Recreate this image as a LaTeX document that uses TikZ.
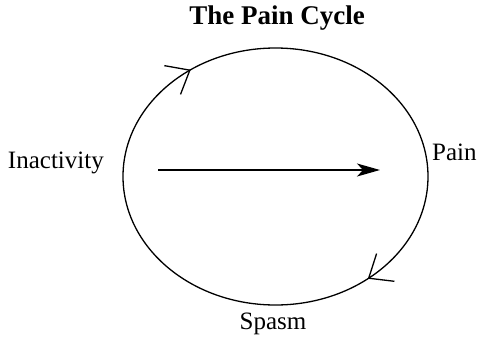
\documentclass[tikz,border=0pt]{standalone}
\usepackage{fontspec}
\setmainfont{Liberation Serif}
\usetikzlibrary{arrows.meta, decorations.markings}

\tikzset{cycle tip/.tip={Straight Barb[length=20pt,width=33pt,line width=1.3pt]}}

\begin{document}
\begin{tikzpicture}[x=1pt,y=-1pt,>=Stealth,
    label text/.style={font=\fontsize{25}{30}\selectfont,inner sep=0pt}]
  \useasboundingbox (0,0) rectangle (480,338);
  % title
  \node[font=\fontsize{27}{32}\bfseries\selectfont,inner sep=0pt] (title) at (277,18) {The Pain Cycle};
  % the cycle, drawn clockwise
  \coordinate (C) at (275.5,176.5);
  \draw[line width=1.3pt,
        decoration={markings,
          mark=at position 0.15 with {\arrow{cycle tip}},
          mark=at position 0.64 with {\arrow{cycle tip}}},
        postaction={decorate}]
    (C) ++(-152.5,0) arc[start angle=180,end angle=540,x radius=152.5,y radius=128.5];
  % labels round the cycle
  \node[label text,anchor=east] (inactivity) at (104,163) {Inactivity};
  \node[label text,anchor=west] (pain) at (432,152) {Pain};
  \node[label text] (spasm) at (273,324) {Spasm};
  % central arrow
  \coordinate (from) at (158,170);
  \coordinate (to) at (380,170);
  \draw[->,line width=1.2pt,>={Stealth[length=23pt,width=13pt,inset=6pt]}] (from) -- (to);
\end{tikzpicture}
\end{document}
